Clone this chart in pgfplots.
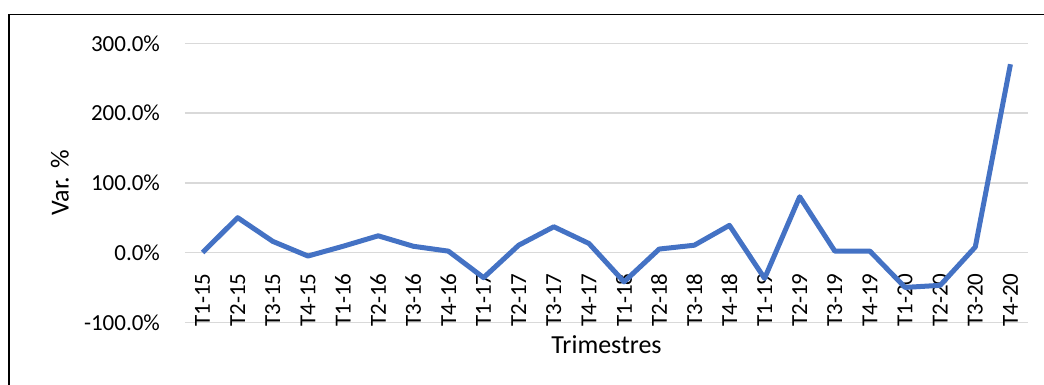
\documentclass[border=0pt]{standalone}
\usepackage{pgfplots}
\pgfplotsset{compat=1.18}
\usepackage{fontspec}
\setmainfont{Carlito}
\definecolor{lineblue}{HTML}{4472C4}
\definecolor{gridgray}{HTML}{D9D9D9}
\begin{document}
\begin{tikzpicture}
\useasboundingbox (0,0) rectangle (522pt,192.5pt);
\draw[line width=0.7pt,black] (4.5pt,0) -- (4.5pt,185.3pt) -- (522pt,185.3pt);
\begin{axis}[
  at={(92.5pt,31.35pt)}, anchor=south west,
  scale only axis, width=421.5pt, height=139.5pt,
  xmin=-0.5, xmax=23.5, ymin=-100, ymax=300,
  axis x line=middle, axis y line=left,
  x axis line style={draw=gridgray, line width=0.75pt, -},
  y axis line style={draw=none},
  xtick=data, ytick={-100,0,100,200,300},
  xticklabels={T1-15,T2-15,T3-15,T4-15,T1-16,T2-16,T3-16,T4-16,T1-17,T2-17,T3-17,T4-17,T1-18,T2-18,T3-18,T4-18,T1-19,T2-19,T3-19,T4-19,T1-20,T2-20,T3-20,T4-20},
  yticklabel={\pgfmathprintnumber[fixed,fixed zerofill,precision=1]{\tick}\%},
  /pgf/number format/assume math mode=true,
  major tick length=0pt,
  tick style={draw=none},
  ymajorgrids, major grid style={draw=gridgray, line width=0.75pt},
  xticklabel style={rotate=90, anchor=east, font=\fontsize{11.5}{12}\selectfont},
  xticklabel shift=7pt,
  yticklabel style={font=\fontsize{11.5}{12}\selectfont},
  yticklabel shift=9pt,
  xlabel={Trimestres}, ylabel={Var. \%},
  xlabel style={at={(axis description cs:0.5,-0.0814)}, anchor=center, font=\fontsize{13}{14}\selectfont},
  ylabel style={at={(axis description cs:-0.1483,0.5)}, anchor=center, font=\fontsize{13}{14}\selectfont},
  clip=false,
]
\addplot[lineblue, line width=2.5pt, line join=round, mark=none] coordinates {
(0,0) (1,50) (2,16) (3,-5) (4,9) (5,24) (6,9) (7,2)
(8,-36) (9,10.5) (10,37) (11,13) (12,-42) (13,5) (14,10.5) (15,39)
(16,-37) (17,80) (18,2) (19,2) (20,-50) (21,-47) (22,8) (23,270)
};
\end{axis}
\end{tikzpicture}
\end{document}
